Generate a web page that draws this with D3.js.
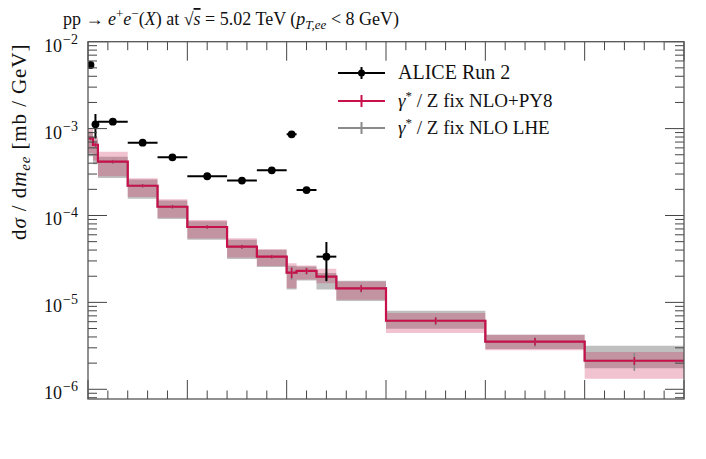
<!DOCTYPE html>
<html>
<head>
<meta charset="utf-8">
<script src="https://cdn.jsdelivr.net/npm/d3@7"></script>
<style>
  html, body { margin: 0; padding: 0; background: #fff; }
  svg { display: block; }
  text { font-family: "Liberation Serif", "DejaVu Serif", serif; fill: #111; }
</style>
</head>
<body>
<svg id="chart" width="706" height="459"></svg>
<script>
// ---------------- data ----------------
const binEdges = [0, 0.025, 0.05, 0.2, 0.35, 0.5, 0.7, 0.85, 1.0, 1.05, 1.15, 1.25, 1.5, 2.0, 2.5, 3.0];

// ALICE Run 2 (first 11 bins)
const aliceY   = [5.39e-3, 1.12e-3, 1.20e-3, 6.88e-4, 4.67e-4, 2.83e-4, 2.52e-4, 3.31e-4, 8.60e-4, 1.96e-4, 3.36e-5];
const aliceErr = [2.0e-4, 3.5e-4, 4.0e-5, 2.5e-5, 1.5e-5, 1.0e-5, 1.0e-5, 1.2e-5, 4.0e-5, 1.0e-5, 1.6e-5];

// gamma*/Z fix NLO+PY8
const py8Y    = [7.7e-4, 6.5e-4, 4.16e-4, 2.20e-4, 1.26e-4, 7.37e-5, 4.38e-5, 3.36e-5, 2.20e-5, 2.30e-5, 1.98e-5, 1.45e-5, 6.15e-6, 3.53e-6, 2.13e-6];
const py8Err  = [3.0e-5, 2.6e-5, 1.7e-5, 9.0e-6, 5.0e-6, 3.0e-6, 2.0e-6, 1.4e-6, 3.0e-6, 1.8e-6, 1.6e-6, 1.2e-6, 5.5e-7, 3.5e-7, 2.2e-7];
const py8Hi   = [9.8e-4, 7.9e-4, 5.4e-4, 2.68e-4, 1.54e-4, 8.85e-5, 5.48e-5, 4.10e-5, 2.82e-5, 2.65e-5, 2.44e-5, 1.74e-5, 7.56e-6, 4.24e-6, 2.68e-6];
const py8Lo   = [5.2e-4, 4.3e-4, 2.83e-4, 1.63e-4, 9.45e-5, 5.45e-5, 3.29e-5, 2.62e-5, 1.45e-5, 1.84e-5, 1.66e-5, 1.07e-5, 4.43e-6, 2.82e-6, 1.32e-6];

// gamma*/Z fix NLO LHE
const lheY    = [7.7e-4, 6.5e-4, 4.16e-4, 2.20e-4, 1.26e-4, 7.37e-5, 4.38e-5, 3.36e-5, 2.20e-5, 2.30e-5, 1.98e-5, 1.45e-5, 6.15e-6, 3.53e-6, 2.13e-6];
const lheErr  = [4.0e-5, 3.4e-5, 2.2e-5, 1.2e-5, 6.5e-6, 4.0e-6, 2.6e-6, 1.8e-6, 3.8e-6, 2.3e-6, 2.6e-6, 1.6e-6, 7.0e-7, 4.5e-7, 5.0e-7];
const lheHi   = [9.2e-4, 7.5e-4, 4.75e-4, 2.60e-4, 1.49e-4, 8.6e-5, 5.25e-5, 4.03e-5, 2.64e-5, 2.58e-5, 2.18e-5, 1.77e-5, 8.0e-6, 4.24e-6, 3.17e-6];
const lheLo   = [4.8e-4, 3.9e-4, 2.70e-4, 1.56e-4, 9.1e-5, 5.25e-5, 3.15e-5, 2.55e-5, 1.41e-5, 1.79e-5, 1.41e-5, 1.04e-5, 4.98e-6, 2.90e-6, 1.75e-6];

const xDomain = [0, 3];
const yDomain = [7.73e-7, 1e-2];
const yTickPowers = [-6, -5, -4, -3, -2];
const legendLabels = ["ALICE Run 2", "NLO+PY8", "NLO LHE"];

// ---------------- layout ----------------
const svg = d3.select("#chart");
const L = 88, R = 684, T = 41.7, B = 399;
const x = d3.scaleLinear().domain(xDomain).range([L, R]);
const y = d3.scaleLog().domain(yDomain).range([B, T]);

const RED = "#c8104a";
const GRAY = "#8a8a8a";

const nb = binEdges.length - 1;
const bins = d3.range(nb).map(i => ({ x0: binEdges[i], x1: binEdges[i + 1], xc: (binEdges[i] + binEdges[i + 1]) / 2 }));

const plot = svg.append("g");
plot.append("defs").append("clipPath").attr("id", "clip")
  .append("rect").attr("x", L).attr("y", T).attr("width", R - L).attr("height", B - T);
const g = plot.append("g").attr("clip-path", "url(#clip)");

function bandPath(lo, hi) {
  const pts = [];
  bins.forEach((b, i) => { pts.push({ x: b.x0, lo: lo[i], hi: hi[i] }); });
  pts.push({ x: bins[nb - 1].x1, lo: lo[nb - 1], hi: hi[nb - 1] });
  return d3.area().curve(d3.curveStepAfter)
    .x(d => x(d.x)).y0(d => y(d.lo)).y1(d => y(d.hi))(pts);
}
function stepPath(vals) {
  const pts = bins.map((b, i) => [b.x0, vals[i]]);
  pts.push([bins[nb - 1].x1, vals[nb - 1]]);
  return d3.line().curve(d3.curveStepAfter).x(d => x(d[0])).y(d => y(d[1]))(pts);
}

// bands
g.append("path").attr("d", bandPath(lheLo, lheHi)).attr("fill", "rgb(128,128,128)").attr("fill-opacity", 0.5);
g.append("path").attr("d", bandPath(py8Lo, py8Hi)).attr("fill", "rgb(205,35,85)").attr("fill-opacity", 0.27);

// lines
g.append("path").attr("d", stepPath(lheY)).attr("fill", "none").attr("stroke", GRAY).attr("stroke-width", 2);
g.append("path").attr("d", stepPath(py8Y)).attr("fill", "none").attr("stroke", RED).attr("stroke-width", 2.2);

// MC stat error bars
g.selectAll(".lheErr").data(bins).join("line")
  .attr("x1", d => x(d.xc)).attr("x2", d => x(d.xc))
  .attr("y1", (d, i) => y(lheY[i] + lheErr[i])).attr("y2", (d, i) => y(lheY[i] - lheErr[i]))
  .attr("stroke", GRAY).attr("stroke-width", 1.6);
g.selectAll(".py8Err").data(bins).join("line")
  .attr("x1", d => x(d.xc)).attr("x2", d => x(d.xc))
  .attr("y1", (d, i) => y(py8Y[i] + py8Err[i])).attr("y2", (d, i) => y(py8Y[i] - py8Err[i]))
  .attr("stroke", RED).attr("stroke-width", 1.6);

// ALICE data
const ab = bins.slice(0, aliceY.length);
g.selectAll(".aH").data(ab).join("line")
  .attr("x1", d => x(d.x0)).attr("x2", d => x(d.x1))
  .attr("y1", (d, i) => y(aliceY[i])).attr("y2", (d, i) => y(aliceY[i]))
  .attr("stroke", "#000").attr("stroke-width", 2);
g.selectAll(".aV").data(ab).join("line")
  .attr("x1", d => x(d.xc)).attr("x2", d => x(d.xc))
  .attr("y1", (d, i) => y(aliceY[i] + aliceErr[i])).attr("y2", (d, i) => y(aliceY[i] - aliceErr[i]))
  .attr("stroke", "#000").attr("stroke-width", 2);
g.selectAll(".aP").data(ab).join("circle")
  .attr("cx", d => x(d.xc)).attr("cy", (d, i) => y(aliceY[i])).attr("r", 3.9).attr("fill", "#000");

// ---------------- axes (frame + inward ticks) ----------------
const ax = svg.append("g");
const tickColor = "#444";
const xt = d3.range(0, 31).map(i => i / 10);
xt.forEach(v => {
  const major = Math.abs(v * 2 - Math.round(v * 2)) < 1e-6;
  const len = major ? 19 : 8.5;
  const px = x(v);
  ax.append("line").attr("x1", px).attr("x2", px).attr("y1", B).attr("y2", B - len).attr("stroke", tickColor).attr("stroke-width", 1);
  ax.append("line").attr("x1", px).attr("x2", px).attr("y1", T).attr("y2", T + len).attr("stroke", tickColor).attr("stroke-width", 1);
});
const yt = y.ticks();
yt.forEach(v => {
  const lg = Math.log10(v);
  const major = Math.abs(lg - Math.round(lg)) < 1e-6;
  const len = major ? 19 : 9;
  const py = y(v);
  if (py < T - 0.5 || py > B + 0.5) return;
  ax.append("line").attr("x1", L).attr("x2", L + len).attr("y1", py).attr("y2", py).attr("stroke", tickColor).attr("stroke-width", 1);
  ax.append("line").attr("x1", R).attr("x2", R - len).attr("y1", py).attr("y2", py).attr("stroke", tickColor).attr("stroke-width", 1);
});
ax.append("rect").attr("x", L).attr("y", T).attr("width", R - L).attr("height", B - T)
  .attr("fill", "none").attr("stroke", "#555").attr("stroke-width", 1.3);

// y tick labels
yTickPowers.forEach(p => {
  const t = svg.append("text").attr("x", 78).attr("y", y(Math.pow(10, p)) + 10).attr("text-anchor", "end").attr("font-size", 18);
  t.append("tspan").text("10");
  t.append("tspan").attr("font-size", 14).attr("dx", 1).attr("dy", -8).text("\u2212" + Math.abs(p));
});

// y axis label
const yl = svg.append("text").attr("transform", `translate(26,${T + 2}) rotate(-90)`).attr("text-anchor", "end")
  .attr("font-size", 21).attr("letter-spacing", 0.9);
yl.append("tspan").text("d");
yl.append("tspan").attr("font-style", "italic").text("\u03C3");
yl.append("tspan").text(" / d");
yl.append("tspan").attr("font-style", "italic").text("m");
yl.append("tspan").attr("font-style", "italic").attr("font-size", 15).attr("dy", 4).text("ee");
yl.append("tspan").attr("dy", -4).text(" [mb / GeV]");

// title
const tt = svg.append("text").attr("x", 63).attr("y", 25).attr("font-size", 18);
tt.append("tspan").text("pp \u2192 ");
tt.append("tspan").attr("font-style", "italic").text("e");
tt.append("tspan").attr("font-size", 13).attr("dy", -7).text("+");
tt.append("tspan").attr("font-style", "italic").attr("dy", 7).text("e");
tt.append("tspan").attr("font-size", 13).attr("dy", -7).text("\u2212");
tt.append("tspan").attr("dy", 7).text("(");
tt.append("tspan").attr("font-style", "italic").text("X");
tt.append("tspan").text(") at \u221A");
tt.append("tspan").attr("font-style", "italic").style("text-decoration", "overline").text("s");
tt.append("tspan").text(" = 5.02 TeV (");
tt.append("tspan").attr("font-style", "italic").text("p");
tt.append("tspan").attr("font-style", "italic").attr("font-size", 13).attr("dy", 4).text("T,ee");
tt.append("tspan").attr("dy", -4).text(" < 8 GeV)");

// legend
const lg = svg.append("g");
const rows = [73, 101, 128];
const lx0 = 338, lx1 = 385, ltx = 398;
// ALICE
lg.append("line").attr("x1", lx0).attr("x2", lx1).attr("y1", rows[0]).attr("y2", rows[0]).attr("stroke", "#000").attr("stroke-width", 2);
lg.append("line").attr("x1", (lx0 + lx1) / 2).attr("x2", (lx0 + lx1) / 2).attr("y1", rows[0] - 6).attr("y2", rows[0] + 6).attr("stroke", "#000").attr("stroke-width", 2);
lg.append("circle").attr("cx", (lx0 + lx1) / 2).attr("cy", rows[0]).attr("r", 3.5).attr("fill", "#000");
// PY8
lg.append("line").attr("x1", lx0).attr("x2", lx1).attr("y1", rows[1]).attr("y2", rows[1]).attr("stroke", RED).attr("stroke-width", 2);
lg.append("line").attr("x1", (lx0 + lx1) / 2).attr("x2", (lx0 + lx1) / 2).attr("y1", rows[1] - 6).attr("y2", rows[1] + 6).attr("stroke", RED).attr("stroke-width", 2);
// LHE
lg.append("line").attr("x1", lx0).attr("x2", lx1).attr("y1", rows[2]).attr("y2", rows[2]).attr("stroke", GRAY).attr("stroke-width", 2);
lg.append("line").attr("x1", (lx0 + lx1) / 2).attr("x2", (lx0 + lx1) / 2).attr("y1", rows[2] - 6).attr("y2", rows[2] + 6).attr("stroke", GRAY).attr("stroke-width", 2);

lg.append("text").attr("x", ltx).attr("y", rows[0] + 6).attr("font-size", 20).text(legendLabels[0]);
[1, 2].forEach(k => {
  const t = lg.append("text").attr("x", ltx).attr("y", rows[k] + 6).attr("font-size", 19);
  t.append("tspan").attr("font-style", "italic").text("\u03B3");
  t.append("tspan").attr("font-size", 13).attr("dy", -7).text("*");
  t.append("tspan").attr("dy", 7).text(" / Z fix " + legendLabels[k]);
});
</script>
</body>
</html>
